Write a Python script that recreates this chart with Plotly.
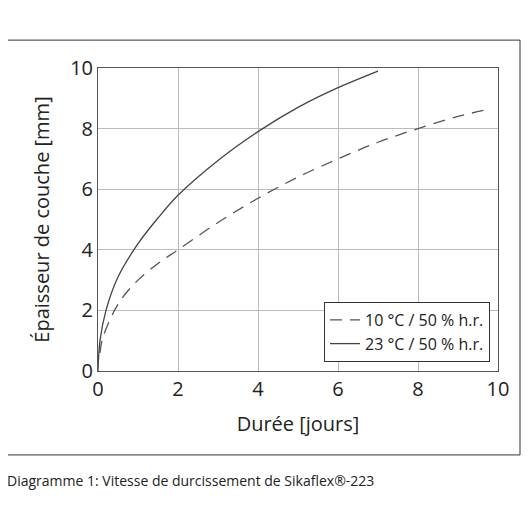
import plotly.graph_objects as go

x_solid = [0, 0.05, 0.2, 0.5, 1, 1.5, 2, 3, 4, 5, 6, 7]
y_solid = [0, 1.0, 2.0, 3.1, 4.2, 5.05, 5.8, 6.95, 7.9, 8.7, 9.35, 9.9]
x_dash = [0.05, 0.1, 0.3, 0.6, 1, 1.5, 2, 3, 4, 5, 6, 7, 8, 9, 9.8]
y_dash = [0.6, 1.0, 1.7, 2.4, 3.0, 3.55, 4.0, 4.9, 5.7, 6.4, 7.0, 7.55, 8.0, 8.4, 8.65]
x_ticks = [0, 2, 4, 6, 8, 10]
y_ticks = [0, 2, 4, 6, 8, 10]

fig = go.Figure()
fig.add_trace(go.Scatter(x=x_dash, y=y_dash, mode="lines", name="10 °C / 50 % h.r.",
                         line=dict(color="#555", width=1.3, dash="12px,8px", shape="spline")))
fig.add_trace(go.Scatter(x=x_solid, y=y_solid, mode="lines", name="23 °C / 50 % h.r.",
                         line=dict(color="#444", width=1.3, shape="spline")))
fig.update_layout(
    width=522, height=522, margin=dict(l=90, r=32, t=60, b=159),
    paper_bgcolor="white", plot_bgcolor="white",
    font=dict(family="Open Sans", color="#222"),
    legend=dict(x=0.98, y=0.03, xanchor="right", yanchor="bottom", bordercolor="#333",
                borderwidth=1, bgcolor="white", font=dict(size=16)),
    xaxis=dict(range=[0, 10], tickvals=x_ticks, showgrid=True, gridcolor="#bbb",
               showline=True, linecolor="#555", mirror=True, zeroline=False,
               tickfont=dict(size=20), title=dict(text="Durée [jours]", font=dict(size=20))),
    yaxis=dict(range=[0, 10], tickvals=y_ticks, showgrid=True, gridcolor="#bbb",
               showline=True, linecolor="#555", mirror=True, zeroline=False,
               tickfont=dict(size=20), title=dict(text="Épaisseur de couche [mm]", font=dict(size=20))),
    shapes=[dict(type="rect", xref="paper", yref="paper", x0=-0.2325, x1=1.055, y0=-0.277, y1=1.092,
                 line=dict(color="#333", width=1))],
    annotations=[dict(text="Diagramme 1: Vitesse de durcissement de Sikaflex®-223", xref="paper", yref="paper",
                      x=-0.2325, y=-0.325, xanchor="left", yanchor="top", showarrow=False,
                      font=dict(size=14))],
)
fig.write_html("out.html")
